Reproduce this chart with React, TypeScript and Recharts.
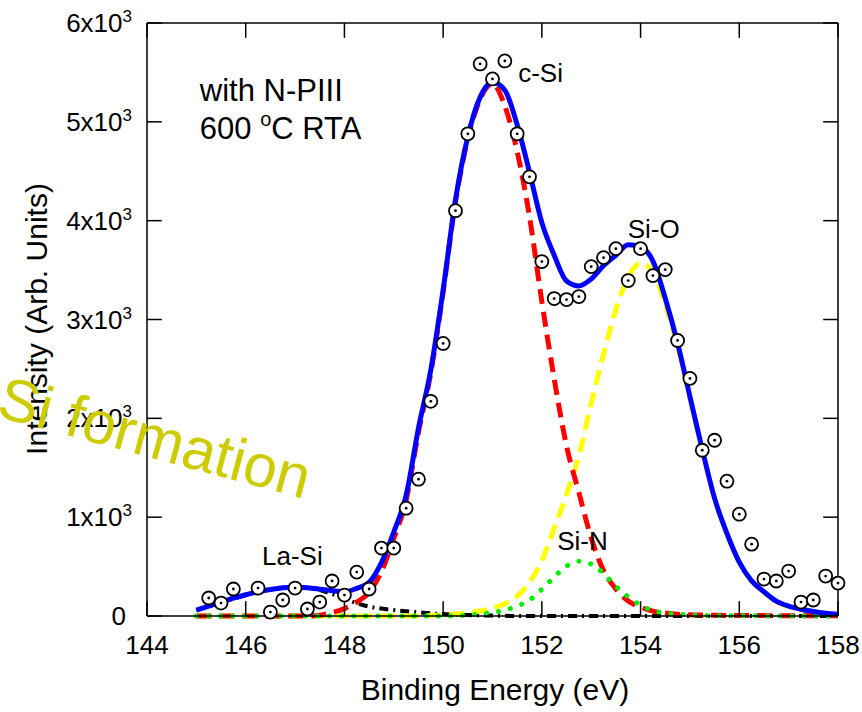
import { ComposedChart, Line, Scatter, XAxis, YAxis, ReferenceDot, ReferenceLine } from "recharts"

const FONT = "'Liberation Sans', Arial, Helvetica, sans-serif"
// inward tick length in data units (about 15px each way)
const TICK_DX = 0.3
const TICK_DY = 150

// fitted curves, sampled every 0.25 eV
const energy = [
  145, 145.25, 145.5, 145.75, 146, 146.25, 146.5, 146.75, 147, 147.25, 147.5, 147.75, 148, 148.25, 148.5, 148.75,
  149, 149.25, 149.5, 149.75, 150, 150.25, 150.5, 150.75, 151, 151.25, 151.5, 151.75, 152, 152.25, 152.5, 152.75,
  153, 153.25, 153.5, 153.75, 154, 154.25, 154.5, 154.75, 155, 155.25, 155.5, 155.75, 156, 156.25, 156.5, 156.75,
  157, 157.25, 157.5, 157.75, 158,
]
const fitTotal = [
  60, 100, 140, 180, 215, 245, 268, 285, 292, 287, 272, 255, 245, 280, 340, 540,
  850, 1220, 1900, 2490, 3300, 4210, 4850, 5250, 5400, 5320, 4970, 4490, 3980, 3650, 3390, 3340,
  3410, 3545, 3650, 3757, 3737, 3590, 3215, 2760, 2220, 1685, 1190, 835, 545, 355, 245, 150,
  100, 68, 45, 28, 18,
]
const cSi = [
  0, 0, 0, 0, 0, 0, 0, 0, 0, 0, 8, 35, 75, 140, 240, 450,
  785, 1170, 1860, 2460, 3280, 4190, 4830, 5230, 5385, 5160, 4700, 4040, 3180, 2400, 1720, 1250,
  790, 460, 273, 152, 90, 50, 30, 18, 12, 9, 7, 6, 5, 4, 4, 3,
  3, 3, 2, 2, 2,
]
const siO = [
  0, 0, 0, 0, 0, 0, 0, 0, 0, 0, 0, 0, 0, 0, 0, 0,
  0, 0, 0, 5, 12, 20, 32, 50, 80, 125, 200, 340, 560, 890, 1230, 1620,
  2150, 2650, 3100, 3430, 3570, 3480, 3150, 2725, 2200, 1675, 1185, 830, 540, 350, 240, 146,
  97, 66, 43, 26, 16,
]
const siN = [
  0, 0, 0, 0, 0, 0, 0, 0, 0, 0, 0, 0, 0, 0, 0, 0,
  0, 0, 0, 0, 0, 0, 10, 20, 35, 60, 100, 160, 270, 395, 505, 555,
  525, 430, 300, 195, 110, 55, 30, 18, 10, 6, 4, 3, 2, 2, 1, 1,
  0, 0, 0, 0, 0,
]
const laSi = [
  60, 95, 135, 175, 212, 243, 266, 283, 290, 282, 262, 222, 175, 130, 95, 75,
  60, 48, 38, 28, 20, 14, 10, 6, 4, 2, 0, 0, 0, 0, 0, 0,
  0, 0, 0, 0, 0, 0, 0, 0, 0, 0, 0, 0, 0, 0, 0, 0,
  0, 0, 0, 0, 0,
]

// measured XPS spectrum
const measuredEnergy = [
  145.25, 145.5, 145.75, 146.25, 146.5, 146.75, 147, 147.25, 147.5, 147.75, 148, 148.25, 148.5, 148.75,
  149, 149.25, 149.5, 149.75, 150, 150.25, 150.5, 150.75, 151, 151.25, 151.5, 151.75, 152, 152.25,
  152.5, 152.75, 153, 153.25, 153.5, 153.75, 154, 154.25, 154.5, 154.75, 155, 155.25, 155.5, 155.75,
  156, 156.25, 156.5, 156.75, 157, 157.25, 157.5, 157.75, 158,
]
const measuredCounts = [
  182, 131, 273, 283, 40, 162, 283, 71, 141, 354, 212, 444, 273, 687,
  687, 1091, 1384, 2172, 2758, 4101, 4879, 5586, 5434, 5616, 4879, 4444, 3586, 3212,
  3202, 3232, 3535, 3626, 3717, 3394, 3717, 3444, 3505, 2788, 2404, 1677, 1778, 1364,
  1030, 727, 374, 354, 455, 141, 162, 404, 333,
]

const xTicks = [144, 146, 148, 150, 152, 154, 156, 158]
const yTicks = [0, 1000, 2000, 3000, 4000, 5000, 6000]
const X_MIN = 144
const X_MAX = 158
const Y_MIN = 0
const Y_MAX = 6000

const curveRows = energy.map((e, i) => ({
  e,
  fit: fitTotal[i],
  cSi: cSi[i],
  siO: siO[i],
  siN: siN[i],
  laSi: laSi[i],
}))
const points = measuredEnergy.map((e, i) => ({ e, counts: measuredCounts[i] }))

// eslint-disable-next-line @typescript-eslint/no-explicit-any
const BottomLabel = ({ x, y, payload }: any) => (
  <text x={x} y={y + 18} textAnchor="middle" fontSize={26} fontFamily={FONT} fill="#000">
    {payload.value}
  </text>
)

// eslint-disable-next-line @typescript-eslint/no-explicit-any
const LeftLabel = ({ x, y, payload }: any) => {
  const v = payload.value as number
  if (v === 0) {
    return <text x={x - 6} y={y + 9} textAnchor="end" fontSize={26} fontFamily={FONT} fill="#000">0</text>
  }
  return (
    <text x={x} y={y + 9} textAnchor="end" fontSize={26} fontFamily={FONT} fill="#000">
      {`${v / 1000}x10`}
      <tspan fontSize={17} dy={-10}>3</tspan>
    </text>
  )
}

// eslint-disable-next-line @typescript-eslint/no-explicit-any
const DataPoint = ({ cx, cy }: any) => (
  <g>
    <circle cx={cx} cy={cy} r={6.5} fill="#fff" stroke="#000" strokeWidth={1.8} />
    <circle cx={cx} cy={cy} r={1.4} fill="#000" />
  </g>
)

const note = (text: string, size = 26) =>
  // eslint-disable-next-line @typescript-eslint/no-explicit-any
  (p: any) => (
    <text x={p.cx} y={p.cy} fontSize={size} fontFamily={FONT} fill="#000">
      {text}
    </text>
  )

// eslint-disable-next-line @typescript-eslint/no-explicit-any
const rtaNote = (p: any) => (
  <text x={p.cx} y={p.cy} fontSize={31} fontFamily={FONT} fill="#000">
    600{" "}
    <tspan fontSize={20} dy={-13}>o</tspan>
    <tspan dy={13}>C RTA</tspan>
  </text>
)

const axisLine = { stroke: "#000", strokeWidth: 1.5 }
const frame = { stroke: "#000", strokeWidth: 1.5 }

export default function App() {
  return (
    <div style={{ position: "absolute", left: 0, top: 0, width: 862, height: 712, background: "#fff" }}>
      <ComposedChart width={862} height={712} data={curveRows} margin={{ top: 23, right: 24, bottom: 0, left: 0 }}>
        <XAxis
          dataKey="e"
          type="number"
          domain={[X_MIN, X_MAX]}
          ticks={xTicks}
          height={96}
          tickSize={0}
          tickMargin={20}
          tickLine={false}
          axisLine={axisLine}
          tick={BottomLabel}
        />
        <YAxis
          type="number"
          domain={[Y_MIN, Y_MAX]}
          ticks={yTicks}
          width={147}
          tickSize={0}
          tickMargin={15}
          tickLine={false}
          axisLine={axisLine}
          tick={LeftLabel}
        />
        <Line dataKey="laSi" type="monotone" stroke="#000" strokeWidth={4} strokeDasharray="9 5 2 5" dot={false} isAnimationActive={false} />
        <Line dataKey="siO" type="monotone" stroke="#ffff00" strokeWidth={5} strokeDasharray="15 8" dot={false} isAnimationActive={false} />
        <Line dataKey="cSi" type="monotone" stroke="#ff0000" strokeWidth={5} strokeDasharray="15 8" dot={false} isAnimationActive={false} />
        <Line dataKey="siN" type="monotone" stroke="#00ee00" strokeWidth={5} strokeDasharray="0.1 12" strokeLinecap="round" dot={false} isAnimationActive={false} />
        <Line dataKey="fit" type="monotone" stroke="#0000ff" strokeWidth={5} dot={false} isAnimationActive={false} />
        <Scatter data={points} dataKey="counts" shape={DataPoint} isAnimationActive={false} />

        {/* closed frame with inward ticks */}
        <ReferenceLine y={Y_MAX} {...frame} />
        <ReferenceLine x={X_MAX} {...frame} />
        {xTicks.map((t) => (
          <ReferenceLine key={`b${t}`} segment={[{ x: t, y: Y_MIN }, { x: t, y: Y_MIN + TICK_DY }]} {...frame} />
        ))}
        {xTicks.map((t) => (
          <ReferenceLine key={`t${t}`} segment={[{ x: t, y: Y_MAX }, { x: t, y: Y_MAX - TICK_DY }]} {...frame} />
        ))}
        {yTicks.map((t) => (
          <ReferenceLine key={`l${t}`} segment={[{ x: X_MIN, y: t }, { x: X_MIN + TICK_DX, y: t }]} {...frame} />
        ))}
        {yTicks.map((t) => (
          <ReferenceLine key={`r${t}`} segment={[{ x: X_MAX, y: t }, { x: X_MAX - TICK_DX, y: t }]} {...frame} />
        ))}

        <ReferenceDot x={145.07} y={5215} r={0} shape={note("with N-PIII", 31)} />
        <ReferenceDot x={145.07} y={4823} r={0} shape={rtaNote} />
        <ReferenceDot x={151.52} y={5404} r={0} shape={note("c-Si")} />
        <ReferenceDot x={153.74} y={3829} r={0} shape={note("Si-O")} />
        <ReferenceDot x={152.31} y={671} r={0} shape={note("Si-N")} />
        <ReferenceDot x={146.33} y={520} r={0} shape={note("La-Si")} />
      </ComposedChart>
      <svg width={862} height={712} style={{ position: "absolute", left: 0, top: 0, pointerEvents: "none" }}>
        <text x={495} y={700} textAnchor="middle" fontSize={30} fontFamily={FONT} fill="#000">
          Binding Energy (eV)
        </text>
        <text transform="translate(47,319) rotate(-90)" textAnchor="middle" fontSize={30} fontFamily={FONT} fill="#000">
          Intensity (Arb. Units)
        </text>
        <text transform="translate(-5,416) rotate(15)" fontSize={60} fontFamily={FONT} fill="#cccc00">
          Si formation
        </text>
      </svg>
    </div>
  )
}
